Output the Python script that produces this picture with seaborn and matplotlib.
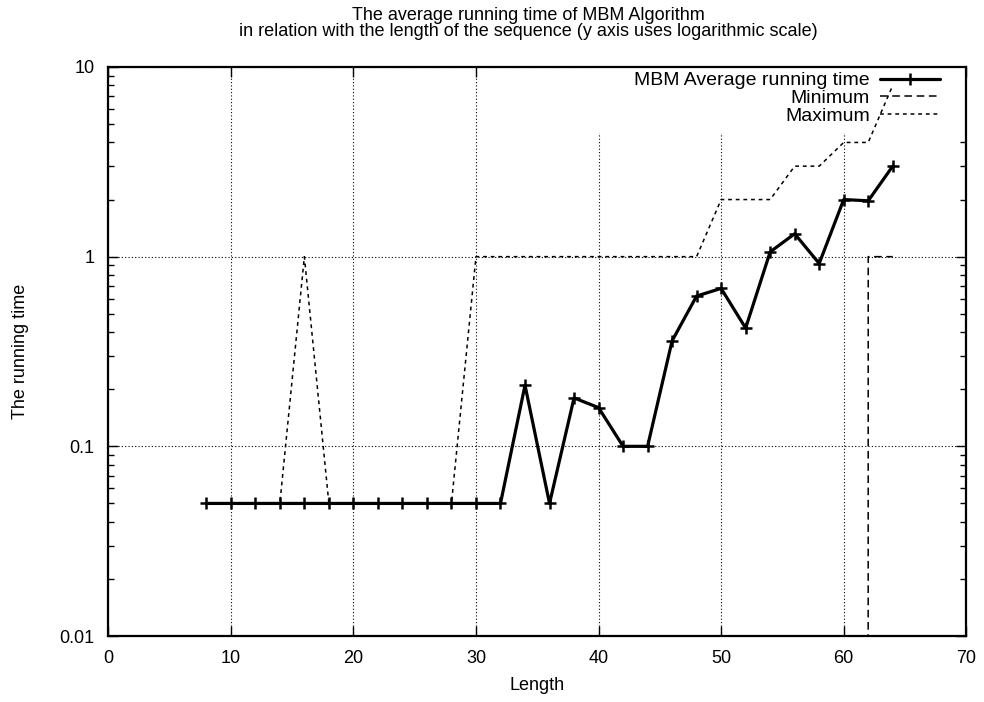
import numpy as np
import pandas as pd
import matplotlib
matplotlib.use("Agg")
import matplotlib.pyplot as plt
import seaborn as sns
from matplotlib.ticker import FixedLocator, FuncFormatter, LogLocator, NullFormatter
from matplotlib.patches import Rectangle

# ---- data ----
lengths = [8, 10, 12, 14, 16, 18, 20, 22, 24, 26, 28, 30, 32, 34, 36, 38, 40,
           42, 44, 46, 48, 50, 52, 54, 56, 58, 60, 62, 64]
avg_time = [0.05, 0.05, 0.05, 0.05, 0.05, 0.05, 0.05, 0.05, 0.05, 0.05, 0.05,
            0.05, 0.05, 0.21, 0.05, 0.18, 0.16, 0.10, 0.10, 0.36, 0.62, 0.68,
            0.42, 1.06, 1.32, 0.92, 2.0, 1.97, 3.0]
min_time = [0, 0, 0, 0, 0, 0, 0, 0, 0, 0, 0, 0, 0, 0, 0, 0, 0, 0, 0, 0, 0, 0,
            0, 0, 0, 0, 0, 1, 1]
max_time = [0.05, 0.05, 0.05, 0.05, 1, 0.05, 0.05, 0.05, 0.05, 0.05, 0.05, 1,
            1, 1, 1, 1, 1, 1, 1, 1, 1, 2, 2, 2, 3, 3, 4, 4, 8]
series_labels = ["MBM Average running time", "Minimum", "Maximum"]
x_ticks = [0, 10, 20, 30, 40, 50, 60, 70]
y_ticks = [0.01, 0.1, 1, 10]

title = ("The average running time of MBM Algorithm\n"
         "in relation with the length of the sequence (y axis uses logarithmic scale)")

sns.set_theme(style="ticks")
plt.rcParams["font.family"] = ["Liberation Sans", "DejaVu Sans"]
plt.rcParams["font.size"] = 13
plt.rcParams["text.color"] = "black"
plt.rcParams["axes.labelcolor"] = "black"
plt.rcParams["xtick.color"] = "black"
plt.rcParams["ytick.color"] = "black"

fig = plt.figure(figsize=(9.84, 7.02), dpi=100)
ax = fig.add_axes([0.110, 0.094, 0.872, 0.8106])
ax.set_yscale("log")
ax.set_xlim(0, 70)
ax.set_ylim(0.01, 10)

df = pd.DataFrame({"Length": lengths, "avg": avg_time, "min": min_time, "max": max_time})

sns.lineplot(data=df, x="Length", y="avg", ax=ax, color="black", lw=2.3,
             marker="+", markersize=8, markeredgewidth=1.8, markeredgecolor="black",
             label=series_labels[0], errorbar=None, sort=False, zorder=3)
sns.lineplot(data=df, x="Length", y="min", ax=ax, color="black", lw=1.1,
             dashes=False, linestyle=(0, (5, 3)),
             label=series_labels[1], errorbar=None, sort=False, zorder=2)
sns.lineplot(data=df, x="Length", y="max", ax=ax, color="black", lw=1.1,
             dashes=False, linestyle=(0, (2.5, 2.5)),
             label=series_labels[2], errorbar=None, sort=False, zorder=2)

ax.set_xlim(0, 70)
ax.set_ylim(0.01, 10)

# ticks
ax.xaxis.set_major_locator(FixedLocator(x_ticks))
ax.yaxis.set_major_locator(FixedLocator(y_ticks))
ax.yaxis.set_major_formatter(FuncFormatter(lambda v, p: f"{v:g}"))
ax.yaxis.set_minor_locator(LogLocator(base=10, subs=np.arange(2, 10)))
ax.yaxis.set_minor_formatter(NullFormatter())
ax.tick_params(which="both", direction="in", top=True, right=True, colors="black",
               labelsize=13, width=1.0)
ax.tick_params(which="major", length=7, pad=10)
ax.tick_params(axis="x", which="minor", length=0)
ax.tick_params(axis="y", which="minor", length=4)

for s in ax.spines.values():
    s.set_linewidth(1.6)
    s.set_color("black")

# grid
ax.set_axisbelow(True)
ax.grid(True, which="major", axis="both", linestyle=(0, (1, 2)), color="black", lw=0.8)
ax.grid(False, which="minor")

# key area masks the grid (gnuplot style)
ax.add_patch(Rectangle((0.562, 0.884), 0.438, 0.116, transform=ax.transAxes,
                       facecolor="white", edgecolor="none", zorder=1))

handles, labels = ax.get_legend_handles_labels()
leg = ax.legend(handles, labels, loc="upper right", bbox_to_anchor=(0.975, 1.0),
                borderaxespad=0, borderpad=0.25, frameon=False, markerfirst=False,
                handlelength=3.1, handletextpad=0.5, labelspacing=0.0, fontsize=14)

ax.set_xlabel("Length", fontsize=13, labelpad=7)
ax.set_ylabel("The running time", fontsize=13, labelpad=22)
ax.set_title(title, fontsize=13, linespacing=0.95, pad=22, x=0.49)

fig.savefig("out.png", dpi=100)
